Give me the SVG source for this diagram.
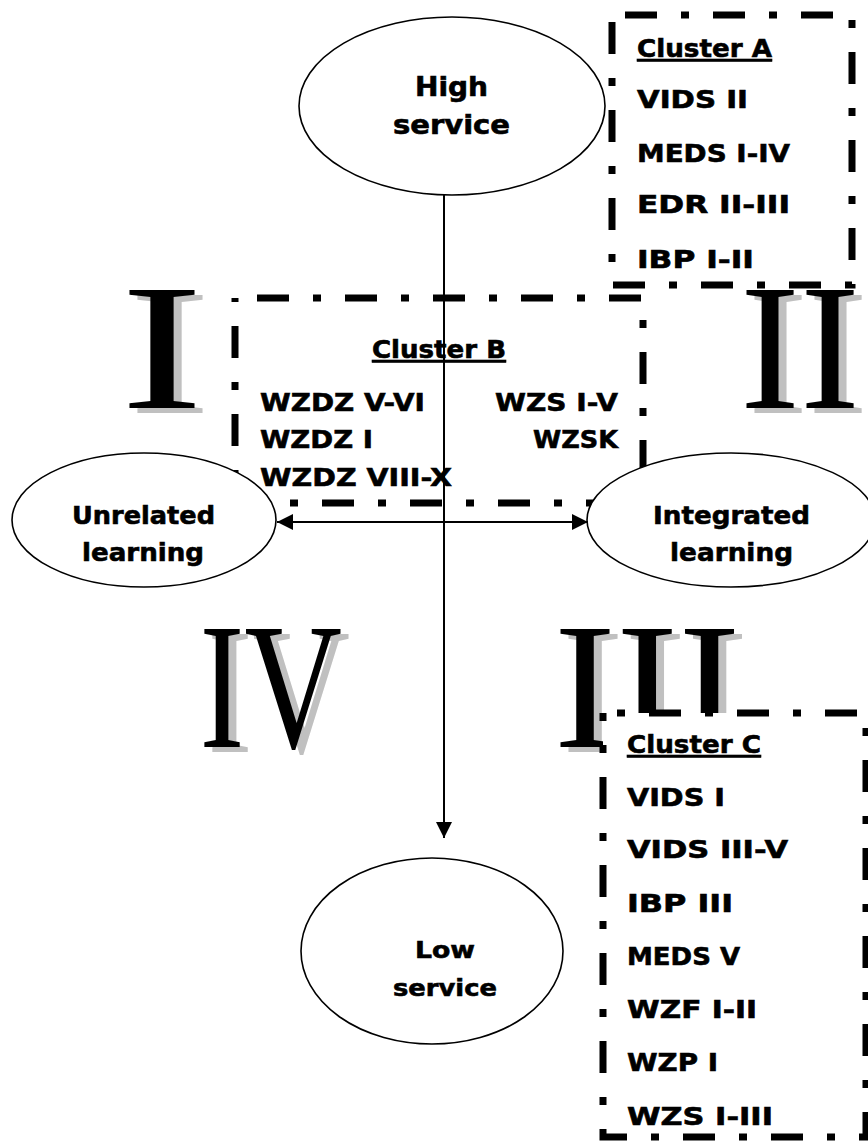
<svg xmlns="http://www.w3.org/2000/svg" width="868" height="1142" viewBox="0 0 868 1142">
  <style>
    .lbl { font-family: "DejaVu Sans", Verdana, sans-serif; font-weight: bold; font-size: 25px; fill: #000; stroke: #000; stroke-width: 0.6; }
    .big { font-size: 26px; }
    .small { font-size: 23px; }
    .mid { text-anchor: middle; }
    .end { text-anchor: end; }
    .title { text-decoration: underline; }
    .node { fill: #fff; stroke: #000; stroke-width: 1.6; }
    .cluster { stroke: #000; stroke-width: 7; stroke-dasharray: 32 24 8 24; }
    .roman { font-family: "Liberation Serif", "Times New Roman", serif; font-size: 180px; }
    .shadow { fill: #c0c0c0; }
    .ink { fill: #000; }
    .wire { stroke: #000; stroke-width: 2; fill: none; }
  </style>
  <defs>
    <marker id="arrow" markerUnits="userSpaceOnUse" markerWidth="16" markerHeight="16" refX="16" refY="8" orient="auto-start-reverse">
      <path d="M0,0 L16,8 L0,16 z" fill="#000"/>
    </marker>
  </defs>

  <rect width="868" height="1142" fill="#fff"/>

  <!-- quadrant numerals with drop shadow -->
  <g id="quadrant-labels" class="roman">
    <text class="shadow" transform="translate(128.6,413) scale(1.38,1)">I</text>
    <text class="ink" transform="translate(120.6,408) scale(1.38,1)">I</text>
    <text class="shadow" transform="translate(748,413)">II</text>
    <text class="ink" transform="translate(740,408)">II</text>
    <text class="shadow" transform="translate(207.6,752) scale(0.75,1)">IV</text>
    <text class="ink" transform="translate(199.6,747) scale(0.75,1)">IV</text>
    <text class="shadow" transform="translate(561.7,752) scale(1.04,1)">III</text>
    <text class="ink" transform="translate(553.7,747) scale(1.04,1)">III</text>
  </g>

  <g id="cluster-b">
    <rect class="cluster" x="235" y="298" width="408" height="205" fill="none" stroke-dashoffset="66"/>
    <text class="lbl title" x="372" y="358" textLength="134" lengthAdjust="spacingAndGlyphs">Cluster B</text>
    <text class="lbl" x="260" y="411" textLength="165" lengthAdjust="spacingAndGlyphs">WZDZ V-VI</text>
    <text class="lbl" x="260" y="448" textLength="113" lengthAdjust="spacingAndGlyphs">WZDZ I</text>
    <text class="lbl" x="260" y="486" textLength="192" lengthAdjust="spacingAndGlyphs">WZDZ VIII-X</text>
    <text class="lbl" x="495" y="411" textLength="123" lengthAdjust="spacingAndGlyphs">WZS I-V</text>
    <text class="lbl" x="533" y="448" textLength="85" lengthAdjust="spacingAndGlyphs">WZSK</text>
  </g>

  <g id="high-service">
    <ellipse class="node" cx="452" cy="106" rx="153" ry="89"/>
    <text class="lbl big" x="415" y="96" textLength="73" lengthAdjust="spacingAndGlyphs">High</text>
    <text class="lbl big" x="393" y="134" textLength="117" lengthAdjust="spacingAndGlyphs">service</text>
  </g>

  <g id="unrelated-learning">
    <ellipse class="node" cx="144" cy="520" rx="132" ry="67"/>
    <text class="lbl" x="72" y="524" textLength="143" lengthAdjust="spacingAndGlyphs">Unrelated</text>
    <text class="lbl" x="82" y="561" textLength="122" lengthAdjust="spacingAndGlyphs">learning</text>
  </g>

  <g id="integrated-learning">
    <ellipse class="node" cx="731" cy="520" rx="144" ry="67"/>
    <text class="lbl" x="653" y="524" textLength="157" lengthAdjust="spacingAndGlyphs">Integrated</text>
    <text class="lbl" x="670" y="561" textLength="123" lengthAdjust="spacingAndGlyphs">learning</text>
  </g>

  <g id="low-service">
    <ellipse class="node" cx="432" cy="951" rx="131" ry="93"/>
    <text class="lbl small" x="415" y="958" textLength="60" lengthAdjust="spacingAndGlyphs">Low</text>
    <text class="lbl small" x="393" y="996" textLength="104" lengthAdjust="spacingAndGlyphs">service</text>
  </g>

  <g id="connectors">
    <line class="wire" x1="444" y1="195" x2="444" y2="838" marker-end="url(#arrow)"/>
    <line class="wire" x1="277" y1="522" x2="588" y2="522" marker-start="url(#arrow)" marker-end="url(#arrow)"/>
  </g>

  <g id="cluster-a">
    <rect class="cluster" x="612" y="15" width="240" height="270" fill="#fff" stroke-dashoffset="75"/>
    <text class="lbl title" x="637" y="57" textLength="135" lengthAdjust="spacingAndGlyphs">Cluster A</text>
    <text class="lbl" x="637" y="108" textLength="111" lengthAdjust="spacingAndGlyphs">VIDS II</text>
    <text class="lbl" x="637" y="162" textLength="153" lengthAdjust="spacingAndGlyphs">MEDS I-IV</text>
    <text class="lbl" x="637" y="213" textLength="153" lengthAdjust="spacingAndGlyphs">EDR II-III</text>
    <text class="lbl" x="637" y="268" textLength="117" lengthAdjust="spacingAndGlyphs">IBP I-II</text>
  </g>

  <g id="cluster-c">
    <rect class="cluster" x="603" y="713" width="263" height="424" fill="#fff" stroke-dashoffset="42"/>
    <text class="lbl title" x="627" y="753" textLength="134" lengthAdjust="spacingAndGlyphs">Cluster C</text>
    <text class="lbl" x="627" y="806" textLength="98" lengthAdjust="spacingAndGlyphs">VIDS I</text>
    <text class="lbl" x="627" y="858" textLength="161" lengthAdjust="spacingAndGlyphs">VIDS III-V</text>
    <text class="lbl" x="627" y="912" textLength="106" lengthAdjust="spacingAndGlyphs">IBP III</text>
    <text class="lbl" x="627" y="965" textLength="113" lengthAdjust="spacingAndGlyphs">MEDS V</text>
    <text class="lbl" x="627" y="1018" textLength="130" lengthAdjust="spacingAndGlyphs">WZF I-II</text>
    <text class="lbl" x="627" y="1071" textLength="91" lengthAdjust="spacingAndGlyphs">WZP I</text>
    <text class="lbl" x="627" y="1125" textLength="146" lengthAdjust="spacingAndGlyphs">WZS I-III</text>
  </g>
</svg>
